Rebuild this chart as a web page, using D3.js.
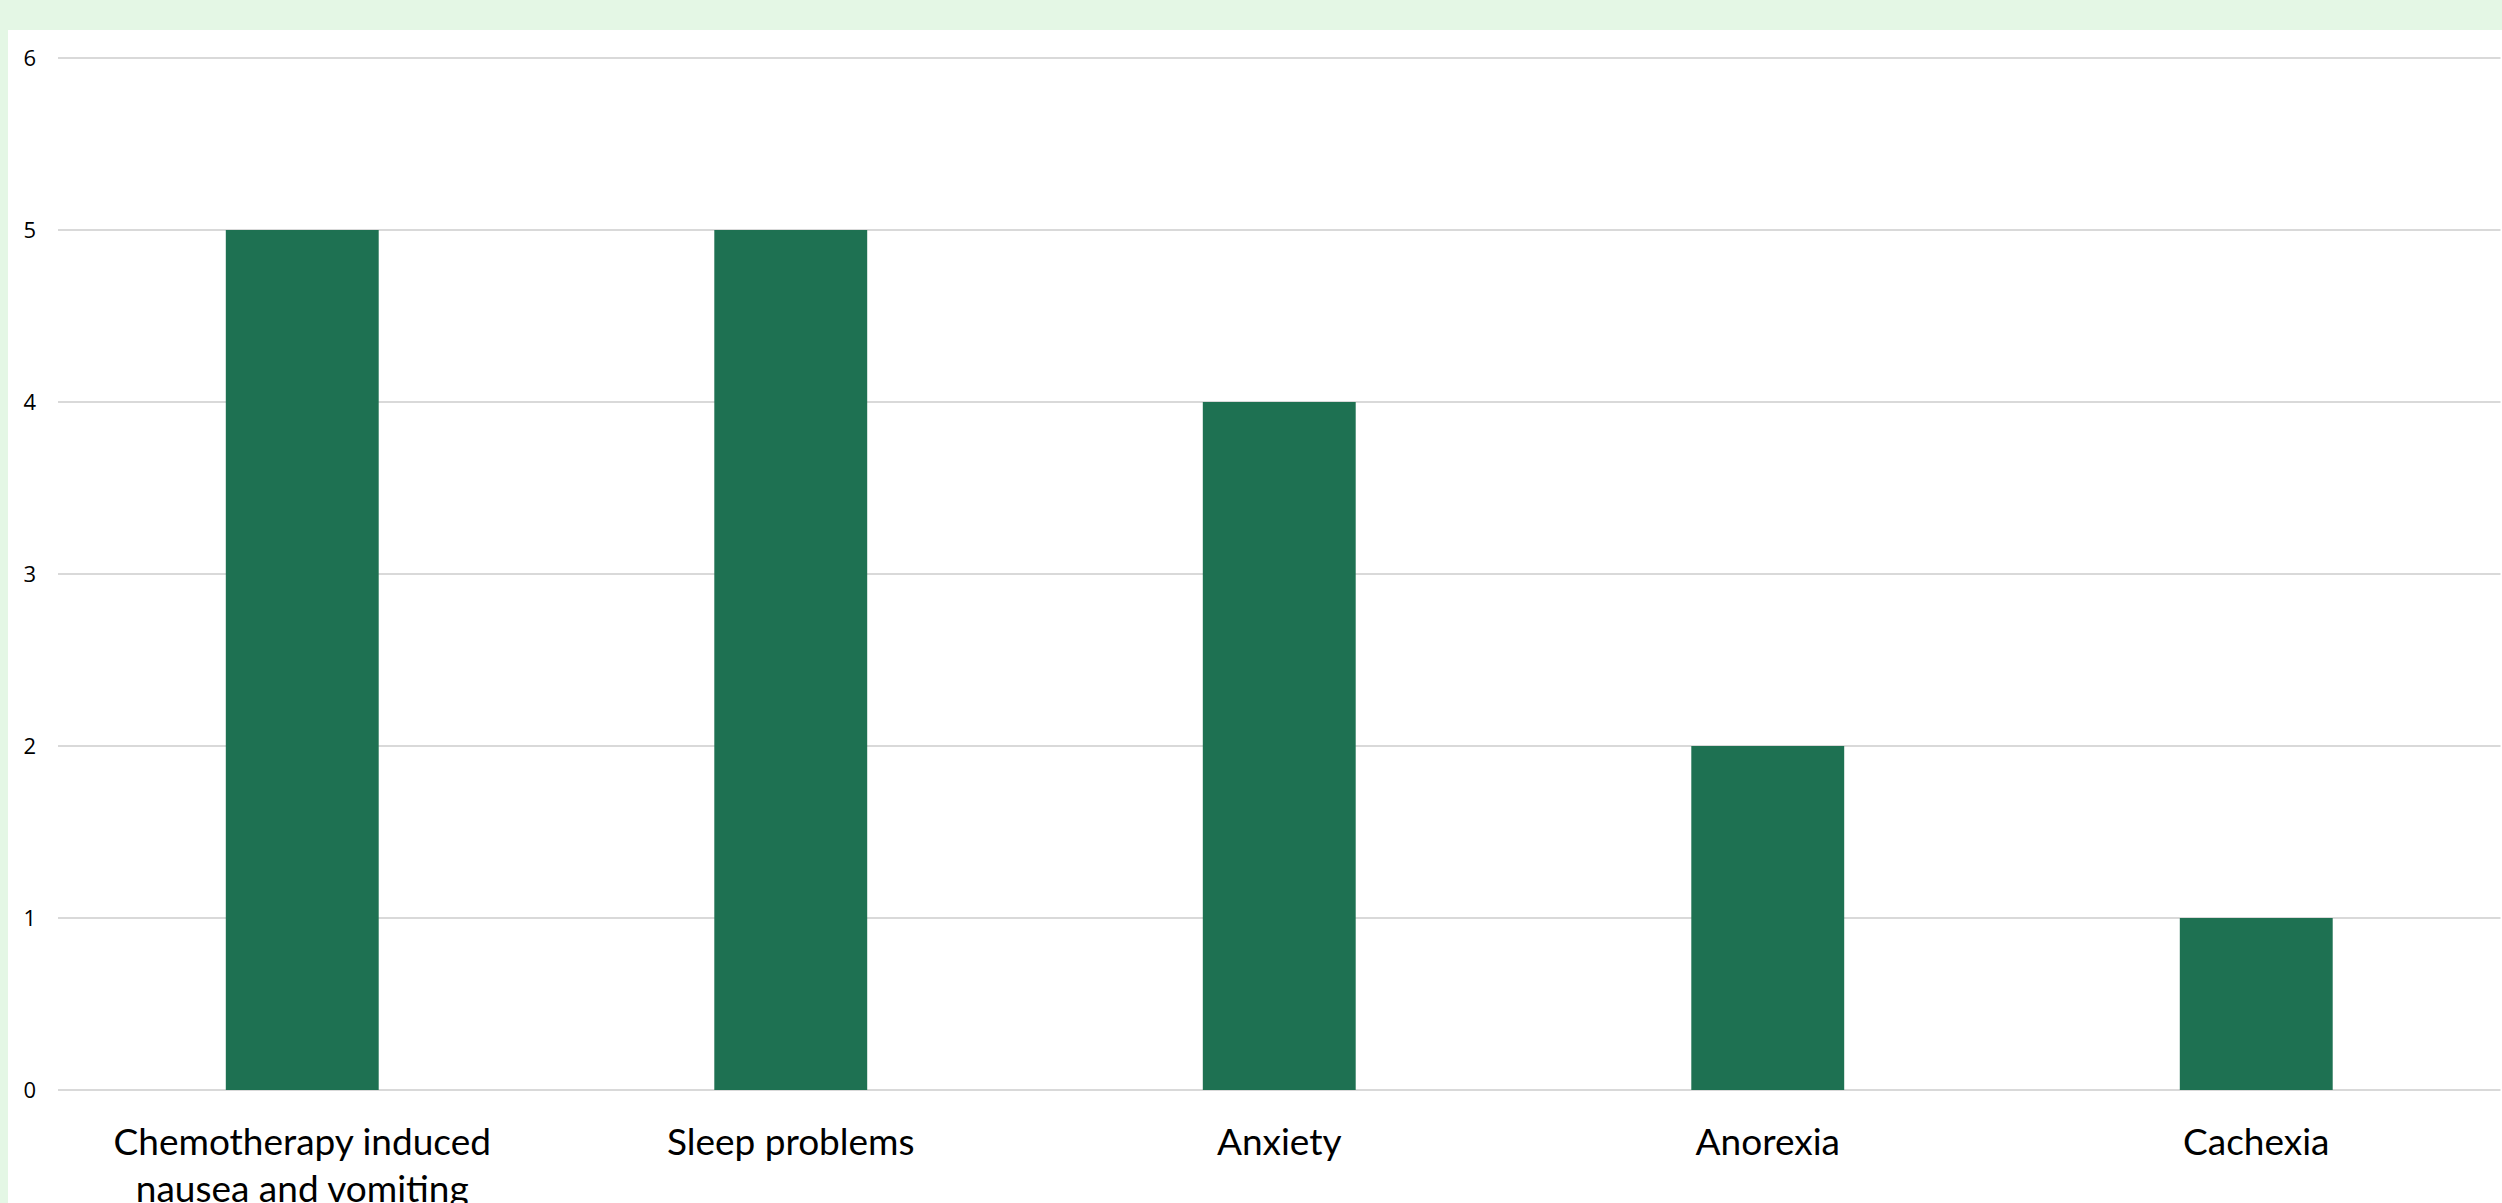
<!DOCTYPE html>
<html lang="en">
<head>
  <meta charset="UTF-8" />
  <title>Symptoms</title>
  <script src="https://d3js.org/d3.v7.min.js"></script>
  <style>
    body {
      margin: 0;
      padding: 0;
      background: #e4f7e5;
      overflow: hidden;
    }
    svg {
      display: block;
    }
    .grid line {
      stroke: #d9d9d9;
      stroke-width: 2px;
    }
    .ylabel {
      font-family: "Open Sans", sans-serif;
      font-size: 22px;
      fill: #000;
    }
    .xlabel {
      font-family: Lato, "Open Sans", sans-serif;
      font-size: 37px;
      fill: #000;
    }
  </style>
</head>
<body>
  <svg width="2502" height="1203"></svg>

  <script>
    const categorias = [
      "Chemotherapy induced nausea and vomiting",
      "Sleep problems",
      "Anxiety",
      "Anorexia",
      "Cachexia"
    ];
    const valores = [5, 5, 4, 2, 1];
    const ticks = [0, 1, 2, 3, 4, 5, 6];

    const largura = 2502;
    const altura = 1203;
    const margem = { top: 58, right: 1.5, bottom: 113, left: 58 };

    const svg = d3.select("svg");

    // fundo verde e painel branco
    svg.append("rect")
      .attr("width", largura)
      .attr("height", altura)
      .attr("fill", "#e4f7e5");
    svg.append("rect")
      .attr("x", 8)
      .attr("y", 30)
      .attr("width", largura - 8)
      .attr("height", altura - 30)
      .attr("fill", "#ffffff");

    const x = d3.scaleBand()
      .domain(categorias)
      .range([margem.left, largura - margem.right])
      .paddingInner(0.687)
      .paddingOuter(0.3435);

    const y = d3.scaleLinear()
      .domain([0, 6])
      .range([altura - margem.bottom, margem.top]);

    // linhas de grade
    svg.append("g")
      .attr("class", "grid")
      .selectAll("line")
      .data(ticks)
      .enter()
      .append("line")
      .attr("x1", margem.left)
      .attr("x2", largura - margem.right)
      .attr("y1", (d) => y(d))
      .attr("y2", (d) => y(d));

    // rótulos do eixo y
    svg.append("g")
      .selectAll("text")
      .data(ticks)
      .enter()
      .append("text")
      .attr("class", "ylabel")
      .attr("x", 36)
      .attr("y", (d) => y(d))
      .attr("dy", "0.35em")
      .attr("text-anchor", "end")
      .text((d) => d);

    // barras
    svg.append("g")
      .selectAll("rect")
      .data(categorias)
      .enter()
      .append("rect")
      .attr("x", (d) => x(d))
      .attr("width", x.bandwidth())
      .attr("y", (d, i) => y(valores[i]))
      .attr("height", (d, i) => y(0) - y(valores[i]))
      .attr("fill", "#1e7152");

    // rótulos das categorias, com quebra de linha
    const passo = x.step();
    const rotulos = svg.append("g")
      .selectAll("text")
      .data(categorias)
      .enter()
      .append("text")
      .attr("class", "xlabel")
      .attr("text-anchor", "middle")
      .attr("x", (d) => x(d) + x.bandwidth() / 2)
      .attr("y", y(0) + 65);

    rotulos.each(function (d) {
      const t = d3.select(this);
      const cx = +t.attr("x");
      const palavras = d.split(" ");
      let linha = [];
      let tspan = t.append("tspan").attr("x", cx).attr("dy", 0);
      palavras.forEach((p) => {
        linha.push(p);
        tspan.text(linha.join(" "));
        if (tspan.node().getComputedTextLength() > passo * 0.92 && linha.length > 1) {
          linha.pop();
          tspan.text(linha.join(" "));
          linha = [p];
          tspan = t.append("tspan").attr("x", cx).attr("dy", 47).text(p);
        }
      });
    });
  </script>
</body>
</html>
